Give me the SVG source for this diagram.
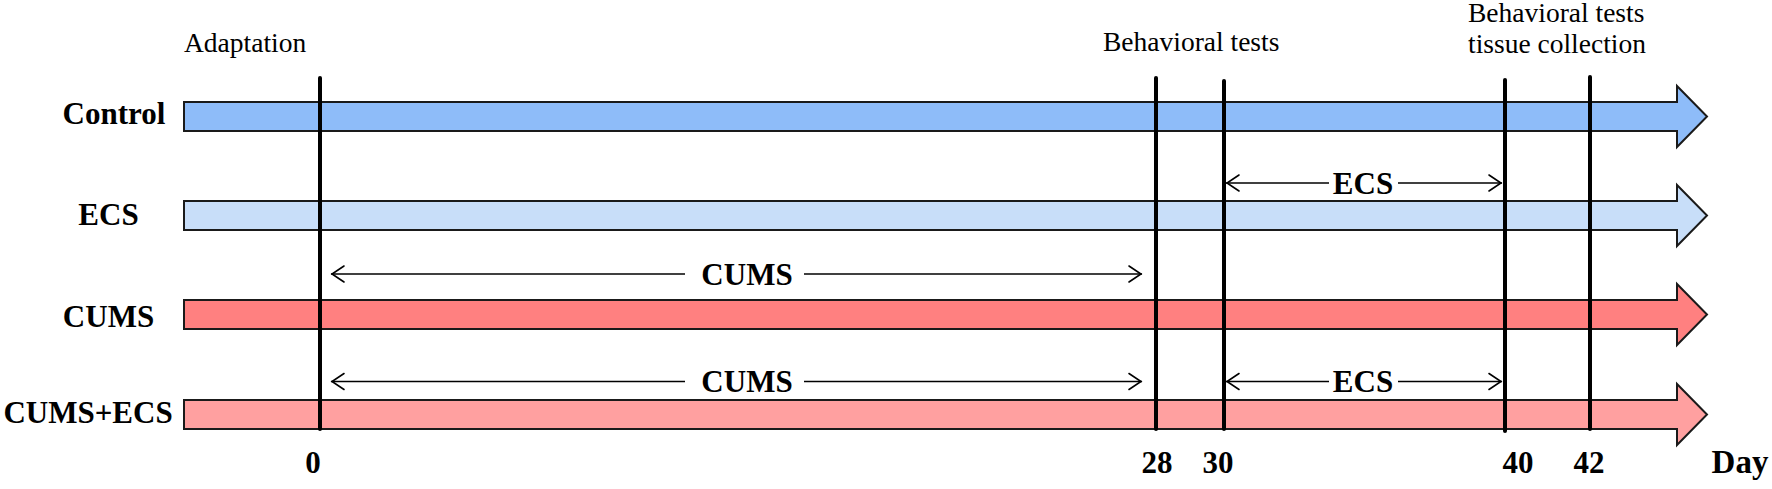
<svg xmlns="http://www.w3.org/2000/svg" width="1772" height="489" viewBox="0 0 1772 489">
<style>
.bar{stroke:#1a1a1a;stroke-width:2;stroke-linejoin:miter}
.lbl{font-family:"Liberation Serif","Times New Roman",serif;font-weight:bold;font-size:31px;fill:#000;text-anchor:middle}
.top{font-family:"Liberation Serif","Times New Roman",serif;font-size:27.5px;fill:#000}
.span{font-family:"Liberation Serif","Times New Roman",serif;font-weight:bold;font-size:31px;fill:#000;text-anchor:middle}
.day{font-family:"Liberation Serif","Times New Roman",serif;font-weight:bold;font-size:31px;fill:#000;text-anchor:middle}
.vl{stroke:#000;stroke-width:4;stroke-linecap:round}
.dl{stroke:#000;stroke-width:1.6;fill:none}
.hd{stroke:#000;stroke-width:1.6;fill:none;stroke-linecap:round;stroke-linejoin:miter}
</style>
<rect width="1772" height="489" fill="#fff"/>

<g id="top-labels">
<text class="top" x="184" y="52">Adaptation</text>
<text class="top" x="1103" y="51">Behavioral tests</text>
<text class="top" x="1468" y="22">Behavioral tests</text>
<text class="top" x="1468" y="53">tissue collection</text>
</g>

<g id="control">
<path class="bar" fill="#8ebcf9" d="M184,102 H1677 V86 L1707,116.5 L1677,147 V131 H184 Z"/>
<text class="lbl" x="114" y="124">Control</text>
</g>
<g id="ecs">
<path class="bar" fill="#c8def9" d="M184,201 H1677 V185 L1707,215.5 L1677,246 V230 H184 Z"/>
<text class="lbl" x="108.5" y="225">ECS</text>
</g>
<g id="cums">
<path class="bar" fill="#ff8080" d="M184,300 H1677 V284 L1707,314.5 L1677,345 V329 H184 Z"/>
<text class="lbl" x="108.5" y="327">CUMS</text>
</g>
<g id="cums-ecs">
<path class="bar" fill="#ffa0a0" d="M184,400 H1677 V384 L1707,414.5 L1677,445 V429 H184 Z"/>
<text class="lbl" x="88" y="423">CUMS+ECS</text>
</g>

<g id="day-lines">
<line class="vl" x1="320" y1="78" x2="320" y2="429"/>
<line class="vl" x1="1156" y1="78" x2="1156" y2="429"/>
<line class="vl" x1="1224" y1="81" x2="1224" y2="429"/>
<line class="vl" x1="1505" y1="80" x2="1505" y2="431"/>
<line class="vl" x1="1590" y1="77" x2="1590" y2="429"/>
</g>

<g id="connectors">
<!-- ECS row: day 30 to 40 -->
<line class="dl" x1="1226" y1="183" x2="1329" y2="183"/>
<line class="dl" x1="1398" y1="183" x2="1502" y2="183"/>
<polyline class="hd" points="1239,175 1227,183 1239,191"/>
<polyline class="hd" points="1489,175 1501,183 1489,191"/>
<text class="span" x="1363" y="193.5">ECS</text>

<!-- CUMS row: day 0 to 28 -->
<line class="dl" x1="331" y1="274" x2="685" y2="274"/>
<line class="dl" x1="804" y1="274" x2="1142" y2="274"/>
<polyline class="hd" points="344,266 332,274 344,282"/>
<polyline class="hd" points="1129,266 1141,274 1129,282"/>
<text class="span" x="747" y="284.5">CUMS</text>

<!-- CUMS+ECS row -->
<line class="dl" x1="331" y1="381.5" x2="685" y2="381.5"/>
<line class="dl" x1="804" y1="381.5" x2="1142" y2="381.5"/>
<polyline class="hd" points="344,373.5 332,381.5 344,389.5"/>
<polyline class="hd" points="1129,373.5 1141,381.5 1129,389.5"/>
<text class="span" x="747" y="392">CUMS</text>

<line class="dl" x1="1226" y1="381.5" x2="1329" y2="381.5"/>
<line class="dl" x1="1398" y1="381.5" x2="1502" y2="381.5"/>
<polyline class="hd" points="1239,373.5 1227,381.5 1239,389.5"/>
<polyline class="hd" points="1489,373.5 1501,381.5 1489,389.5"/>
<text class="span" x="1363" y="392">ECS</text>
</g>

<g id="axis-labels">
<text class="day" x="313" y="473">0</text>
<text class="day" x="1157" y="473">28</text>
<text class="day" x="1218" y="473">30</text>
<text class="day" x="1518" y="473">40</text>
<text class="day" x="1589" y="473">42</text>
<text class="day" x="1740" y="473" style="font-size:33px">Day</text>
</g>
</svg>
